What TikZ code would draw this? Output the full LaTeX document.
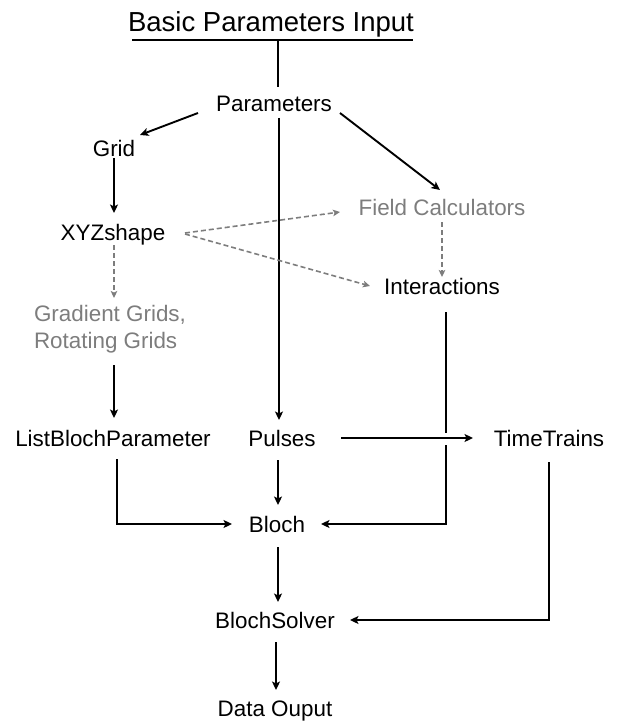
\documentclass[tikz,border=0pt]{standalone}
\usepackage{fontspec}
\setmainfont{Liberation Sans}
\usetikzlibrary{arrows.meta,calc}
\definecolor{dashgray}{RGB}{125,125,125}
\begin{document}
\begin{tikzpicture}[x=1pt,y=-1pt,
  lbl/.style={inner sep=0pt, text height=16pt, text depth=0pt, font=\fontsize{22.4}{27}\selectfont},
  gtxt/.style={lbl, text=dashgray},
  gmulti/.style={inner sep=0pt, align=left, text=dashgray, font=\fontsize{22.4}{27}\selectfont},
  titlestyle/.style={inner sep=0pt, text height=20pt, text depth=0pt, font=\fontsize{27.5}{33}\selectfont},
  conn/.style={line width=1.9pt, -{Stealth[length=8.5pt,width=8pt,inset=2pt]}},
  plainline/.style={line width=1.9pt},
  dconn/.style={line width=1.6pt, dashgray, dash pattern=on 5pt off 3pt, -{Stealth[length=7pt,width=6.5pt,inset=1.5pt]}},
]
\useasboundingbox (0,0) rectangle (621,722);

% nodes
\node[titlestyle] (title) at (271,22) {Basic Parameters Input};
\node[lbl] (param) at (274,104) {Parameters};
\node[lbl] (grid) at (114,149) {Grid};
\node[lbl] (xyz) at (113,232) {XYZshape};
\node[gtxt] (fc) at (442,207) {Field Calculators};
\node[lbl] (inter) at (442,286) {Interactions};
\node[gmulti] (gg) at (110,329) {Gradient Grids,\\Rotating Grids};
\node[lbl] (lbp) at (113,438) {ListBlochParameter};
\node[lbl] (pulses) at (282,438) {Pulses};
\node[lbl] (tt) at (549,438) {TimeTrains};
\node[lbl] (bloch) at (277,524) {Bloch};
\node[lbl] (bs) at (275,620) {BlochSolver};
\node[lbl] (data) at (275,708) {Data Ouput};

% title underline and link to Parameters
\draw[plainline] ([shift={(-139,18)}]title.center) -- ([shift={(142,18)}]title.center);
\draw[plainline] ([shift={(7,18)}]title.center) -- ([shift={(4,-17)}]param.center);

% solid connectors
\draw[conn] ([shift={(-76,9)}]param.center) -- ([shift={(26,-14)}]grid.center);
\draw[conn] ([shift={(66,9)}]param.center) -- ([shift={(-2,-17)}]fc.center);
\draw[conn] ([shift={(5,14)}]param.center) -- ([shift={(-3,-18)}]pulses.center);
\draw[conn] ([shift={(0,9)}]grid.center) -- ([shift={(1,-19)}]xyz.center);
\draw[conn] ([shift={(4,36)}]gg.center) -- ([shift={(1,-20)}]lbp.center);
\draw[conn] ([shift={(4,21)}]lbp.center) |- ([shift={(-45,0)}]bloch.center);
\draw[conn] ([shift={(-4,22)}]pulses.center) -- ([shift={(1,-19)}]bloch.center);
\draw[conn] ([shift={(59,0)}]pulses.center) -- ([shift={(-76,0)}]tt.center);
\coordinate (hopA) at ($(inter.center)+(4,147)$);
\coordinate (hopB) at ($(inter.center)+(4,159)$);
\draw[plainline] ([shift={(4,26)}]inter.center) -- (hopA);
\draw[conn] (hopB) |- ([shift={(44,0)}]bloch.center);
\draw[conn] ([shift={(0,24)}]tt.center) |- ([shift={(75,0)}]bs.center);
\draw[conn] ([shift={(1,23)}]bloch.center) -- ([shift={(3,-18)}]bs.center);
\draw[conn] ([shift={(1,22)}]bs.center) -- ([shift={(1,-18)}]data.center);

% dashed gray connectors
\draw[dconn] ([shift={(72,1)}]xyz.center) -- ([shift={(-102,5)}]fc.center);
\draw[dconn] ([shift={(72,2)}]xyz.center) -- ([shift={(-72,0)}]inter.center);
\draw[dconn] ([shift={(0,15)}]fc.center) -- ([shift={(0,-9)}]inter.center);
\draw[dconn] ([shift={(1,13)}]xyz.center) -- ([shift={(4,-31)}]gg.center);
\end{tikzpicture}
\end{document}
